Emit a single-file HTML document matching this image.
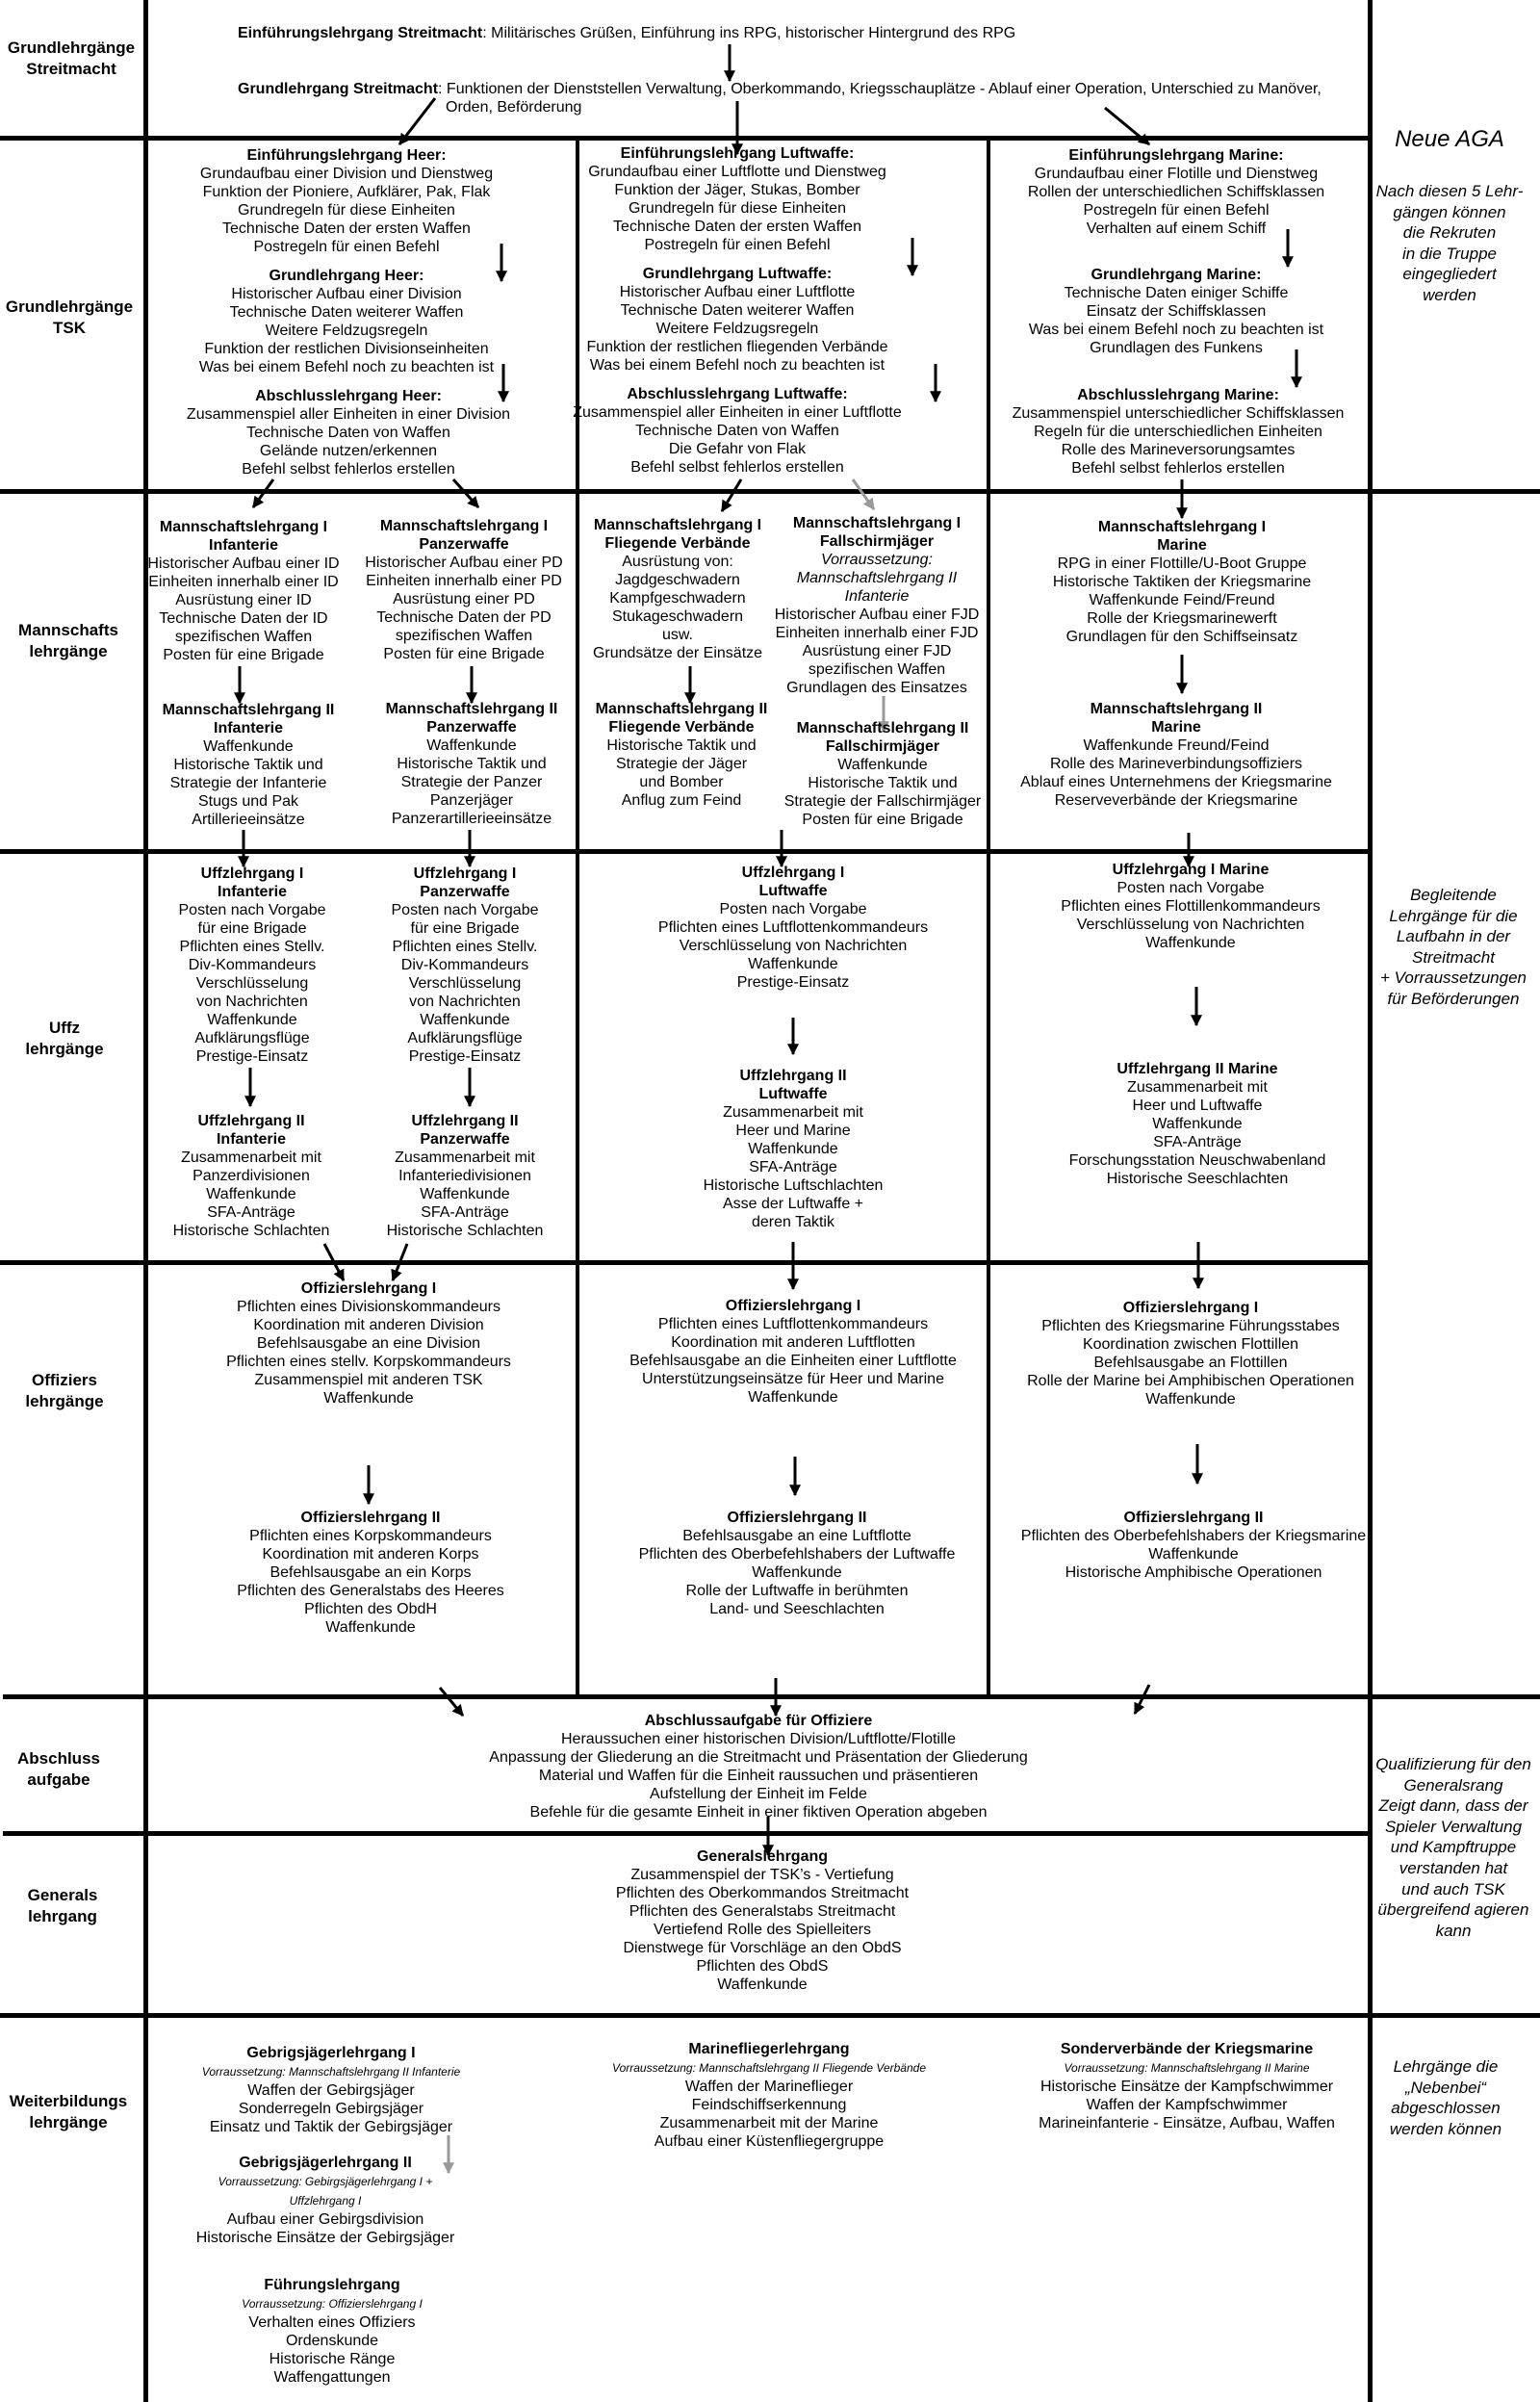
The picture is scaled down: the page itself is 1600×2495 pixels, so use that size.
<!DOCTYPE html>
<html><head><meta charset="utf-8">
<style>
html,body{margin:0;padding:0;background:#fff;}
#c{position:relative;width:1600px;height:2495px;overflow:hidden;font-family:"Liberation Sans",Arial,sans-serif;color:#000;}
.t{position:absolute;transform:translateX(-50%);text-align:center;white-space:nowrap;font-size:16px;line-height:19px;}
.l{position:absolute;white-space:nowrap;font-size:16px;line-height:19px;}
.lab{position:absolute;transform:translateX(-50%);text-align:center;white-space:nowrap;font-size:17px;line-height:21.5px;font-weight:bold;}
.r{position:absolute;transform:translateX(-50%);text-align:center;white-space:nowrap;font-size:17px;line-height:21.6px;font-style:italic;}
.sm{font-size:12px;font-style:italic;}
i{font-style:italic;}
svg{position:absolute;left:0;top:0;}
</style></head><body><div id="c">
<svg width="1600" height="2495" viewBox="0 0 1600 2495">
<defs>
<marker id="a" viewBox="0 0 10 10" refX="9" refY="5" markerWidth="4" markerHeight="4.5" orient="auto"><path d="M0,0 L10,5 L0,10 z" fill="#000"/></marker>
<marker id="g" viewBox="0 0 10 10" refX="9" refY="5" markerWidth="4" markerHeight="4.5" orient="auto"><path d="M0,0 L10,5 L0,10 z" fill="#999"/></marker>
</defs>
<g fill="#000">
<rect x="149" y="0" width="5" height="2495"/>
<rect x="1421" y="0" width="5" height="2495"/>
<rect x="598" y="143" width="4" height="1620"/>
<rect x="1025" y="143" width="4" height="1620"/>
<rect x="0" y="141" width="1424" height="5"/>
<rect x="0" y="508" width="1600" height="5"/>
<rect x="0" y="882" width="1424" height="5"/>
<rect x="0" y="1309" width="1424" height="5"/>
<rect x="3" y="1760" width="1597" height="5"/>
<rect x="3" y="1902" width="1421" height="5"/>
<rect x="0" y="2091" width="1600" height="5"/>
</g>
<g stroke="#000" stroke-width="3" marker-end="url(#a)">
<line x1="758" y1="46" x2="758" y2="84"/>
<line x1="766" y1="105" x2="766" y2="160"/>
<line x1="452" y1="102" x2="415" y2="150"/>
<line x1="1148" y1="112" x2="1194" y2="150"/>
<line x1="521" y1="253" x2="521" y2="292"/>
<line x1="523" y1="378" x2="523" y2="417"/>
<line x1="948" y1="247" x2="948" y2="286"/>
<line x1="972" y1="378" x2="972" y2="417"/>
<line x1="1338" y1="238" x2="1338" y2="277"/>
<line x1="1347" y1="363" x2="1347" y2="402"/>
<line x1="284" y1="498" x2="263" y2="527"/>
<line x1="471" y1="498" x2="497" y2="527"/>
<line x1="770" y1="498" x2="750" y2="531"/>
<line x1="1228" y1="498" x2="1228" y2="538"/>
<line x1="249" y1="692" x2="249" y2="730"/>
<line x1="490" y1="692" x2="490" y2="730"/>
<line x1="717" y1="692" x2="717" y2="730"/>
<line x1="1228" y1="680" x2="1228" y2="720"/>
<line x1="253" y1="862" x2="253" y2="900"/>
<line x1="488" y1="862" x2="488" y2="900"/>
<line x1="812" y1="862" x2="812" y2="900"/>
<line x1="1235" y1="865" x2="1235" y2="900"/>
<line x1="260" y1="1109" x2="260" y2="1149"/>
<line x1="488" y1="1109" x2="488" y2="1149"/>
<line x1="824" y1="1057" x2="824" y2="1095"/>
<line x1="1243" y1="1025" x2="1243" y2="1065"/>
<line x1="337" y1="1292" x2="357" y2="1330"/>
<line x1="423" y1="1292" x2="408" y2="1330"/>
<line x1="824" y1="1290" x2="824" y2="1339"/>
<line x1="1245" y1="1290" x2="1245" y2="1338"/>
<line x1="383" y1="1522" x2="383" y2="1562"/>
<line x1="826" y1="1513" x2="826" y2="1553"/>
<line x1="1244" y1="1500" x2="1244" y2="1541"/>
<line x1="457" y1="1753" x2="481" y2="1782"/>
<line x1="806" y1="1743" x2="806" y2="1782"/>
<line x1="1194" y1="1750" x2="1179" y2="1780"/>
<line x1="798" y1="1887" x2="798" y2="1927"/>
</g>
<g stroke="#999" stroke-width="3" marker-end="url(#g)">
<line x1="886" y1="498" x2="908" y2="529"/>
<line x1="918" y1="723" x2="918" y2="760"/>
<line x1="466" y1="2218" x2="466" y2="2257"/>
</g>
</svg>

<!-- Left labels -->
<div class="lab" style="left:74px;top:39px">Grundlehrgänge<br>Streitmacht</div>
<div class="lab" style="left:72px;top:308px">Grundlehrgänge<br>TSK</div>
<div class="lab" style="left:71px;top:644px">Mannschafts<br>lehrgänge</div>
<div class="lab" style="left:67px;top:1057px">Uffz<br>lehrgänge</div>
<div class="lab" style="left:67px;top:1423px">Offiziers<br>lehrgänge</div>
<div class="lab" style="left:61px;top:1816px">Abschluss<br>aufgabe</div>
<div class="lab" style="left:65px;top:1958px">Generals<br>lehrgang</div>
<div class="lab" style="left:71px;top:2172px">Weiterbildungs<br>lehrgänge</div>

<!-- Top row -->
<div class="l" style="left:247px;top:25px"><b>Einführungslehrgang Streitmacht</b>: Militärisches Grüßen, Einführung ins RPG, historischer Hintergrund des RPG</div>
<div class="l" style="left:247px;top:83px"><b>Grundlehrgang Streitmacht</b>: Funktionen der Dienststellen Verwaltung, Oberkommando, Kriegsschauplätze - Ablauf einer Operation, Unterschied zu Manöver,</div>
<div class="l" style="left:463px;top:102px">Orden, Beförderung</div>

<!-- Right column -->
<div class="r" style="left:1506px;top:131px;font-size:24px;line-height:28px">Neue AGA</div>
<div class="r" style="left:1506px;top:188px">Nach diesen 5 Lehr-<br>gängen können<br>die Rekruten<br>in die Truppe<br>eingegliedert<br>werden</div>
<div class="r" style="left:1510px;top:919px">Begleitende<br>Lehrgänge für die<br>Laufbahn in der<br>Streitmacht<br>+ Vorraussetzungen<br>für Beförderungen</div>
<div class="r" style="left:1510px;top:1822px">Qualifizierung für den<br>Generalsrang<br>Zeigt dann, dass der<br>Spieler Verwaltung<br>und Kampftruppe<br>verstanden hat<br>und auch TSK<br>übergreifend agieren<br>kann</div>
<div class="r" style="left:1502px;top:2136px">Lehrgänge die<br>„Nebenbei“<br>abgeschlossen<br>werden können</div>

<!-- Row 2: TSK -->
<div class="t" style="left:360px;top:152px"><b>Einführungslehrgang Heer:</b><br>Grundaufbau einer Division und Dienstweg<br>Funktion der Pioniere, Aufklärer, Pak, Flak<br>Grundregeln für diese Einheiten<br>Technische Daten der ersten Waffen<br>Postregeln für einen Befehl</div>
<div class="t" style="left:360px;top:277px"><b>Grundlehrgang Heer:</b><br>Historischer Aufbau einer Division<br>Technische Daten weiterer Waffen<br>Weitere Feldzugsregeln<br>Funktion der restlichen Divisionseinheiten<br>Was bei einem Befehl noch zu beachten ist</div>
<div class="t" style="left:362px;top:402px"><b>Abschlusslehrgang Heer:</b><br>Zusammenspiel aller Einheiten in einer Division<br>Technische Daten von Waffen<br>Gelände nutzen/erkennen<br>Befehl selbst fehlerlos erstellen</div>

<div class="t" style="left:766px;top:150px"><b>Einführungslehrgang Luftwaffe:</b><br>Grundaufbau einer Luftflotte und Dienstweg<br>Funktion der Jäger, Stukas, Bomber<br>Grundregeln für diese Einheiten<br>Technische Daten der ersten Waffen<br>Postregeln für einen Befehl</div>
<div class="t" style="left:766px;top:275px"><b>Grundlehrgang Luftwaffe:</b><br>Historischer Aufbau einer Luftflotte<br>Technische Daten weiterer Waffen<br>Weitere Feldzugsregeln<br>Funktion der restlichen fliegenden Verbände<br>Was bei einem Befehl noch zu beachten ist</div>
<div class="t" style="left:766px;top:400px"><b>Abschlusslehrgang Luftwaffe:</b><br>Zusammenspiel aller Einheiten in einer Luftflotte<br>Technische Daten von Waffen<br>Die Gefahr von Flak<br>Befehl selbst fehlerlos erstellen</div>

<div class="t" style="left:1222px;top:152px"><b>Einführungslehrgang Marine:</b><br>Grundaufbau einer Flotille und Dienstweg<br>Rollen der unterschiedlichen Schiffsklassen<br>Postregeln für einen Befehl<br>Verhalten auf einem Schiff</div>
<div class="t" style="left:1222px;top:276px"><b>Grundlehrgang Marine:</b><br>Technische Daten einiger Schiffe<br>Einsatz der Schiffsklassen<br>Was bei einem Befehl noch zu beachten ist<br>Grundlagen des Funkens</div>
<div class="t" style="left:1224px;top:401px"><b>Abschlusslehrgang Marine:</b><br>Zusammenspiel unterschiedlicher Schiffsklassen<br>Regeln für die unterschiedlichen Einheiten<br>Rolle des Marineversorungsamtes<br>Befehl selbst fehlerlos erstellen</div>

<!-- Row 3: Mannschaften -->
<div class="t" style="left:253px;top:538px"><b>Mannschaftslehrgang I<br>Infanterie</b><br>Historischer Aufbau einer ID<br>Einheiten innerhalb einer ID<br>Ausrüstung einer ID<br>Technische Daten der ID<br>spezifischen Waffen<br>Posten für eine Brigade</div>
<div class="t" style="left:258px;top:728px"><b>Mannschaftslehrgang II<br>Infanterie</b><br>Waffenkunde<br>Historische Taktik und<br>Strategie der Infanterie<br>Stugs und Pak<br>Artillerieeinsätze</div>
<div class="t" style="left:482px;top:537px"><b>Mannschaftslehrgang I<br>Panzerwaffe</b><br>Historischer Aufbau einer PD<br>Einheiten innerhalb einer PD<br>Ausrüstung einer PD<br>Technische Daten der PD<br>spezifischen Waffen<br>Posten für eine Brigade</div>
<div class="t" style="left:490px;top:727px"><b>Mannschaftslehrgang II<br>Panzerwaffe</b><br>Waffenkunde<br>Historische Taktik und<br>Strategie der Panzer<br>Panzerjäger<br>Panzerartillerieeinsätze</div>
<div class="t" style="left:704px;top:536px"><b>Mannschaftslehrgang I<br>Fliegende Verbände</b><br>Ausrüstung von:<br>Jagdgeschwadern<br>Kampfgeschwadern<br>Stukageschwadern<br>usw.<br>Grundsätze der Einsätze</div>
<div class="t" style="left:708px;top:727px"><b>Mannschaftslehrgang II<br>Fliegende Verbände</b><br>Historische Taktik und<br>Strategie der Jäger<br>und Bomber<br>Anflug zum Feind</div>
<div class="t" style="left:911px;top:534px"><b>Mannschaftslehrgang I<br>Fallschirmjäger</b><br><i>Vorraussetzung:<br>Mannschaftslehrgang II<br>Infanterie</i><br>Historischer Aufbau einer FJD<br>Einheiten innerhalb einer FJD<br>Ausrüstung einer FJD<br>spezifischen Waffen<br>Grundlagen des Einsatzes</div>
<div class="t" style="left:917px;top:747px"><b>Mannschaftslehrgang II<br>Fallschirmjäger</b><br>Waffenkunde<br>Historische Taktik und<br>Strategie der Fallschirmjäger<br>Posten für eine Brigade</div>
<div class="t" style="left:1228px;top:538px"><b>Mannschaftslehrgang I<br>Marine</b><br>RPG in einer Flottille/U-Boot Gruppe<br>Historische Taktiken der Kriegsmarine<br>Waffenkunde Feind/Freund<br>Rolle der Kriegsmarinewerft<br>Grundlagen für den Schiffseinsatz</div>
<div class="t" style="left:1222px;top:727px"><b>Mannschaftslehrgang II<br>Marine</b><br>Waffenkunde Freund/Feind<br>Rolle des Marineverbindungsoffiziers<br>Ablauf eines Unternehmens der Kriegsmarine<br>Reserveverbände der Kriegsmarine</div>

<!-- Row 4: Uffz -->
<div class="t" style="left:262px;top:898px"><b>Uffzlehrgang I<br>Infanterie</b><br>Posten nach Vorgabe<br>für eine Brigade<br>Pflichten eines Stellv.<br>Div-Kommandeurs<br>Verschlüsselung<br>von Nachrichten<br>Waffenkunde<br>Aufklärungsflüge<br>Prestige-Einsatz</div>
<div class="t" style="left:261px;top:1155px"><b>Uffzlehrgang II<br>Infanterie</b><br>Zusammenarbeit mit<br>Panzerdivisionen<br>Waffenkunde<br>SFA-Anträge<br>Historische Schlachten</div>
<div class="t" style="left:483px;top:898px"><b>Uffzlehrgang I<br>Panzerwaffe</b><br>Posten nach Vorgabe<br>für eine Brigade<br>Pflichten eines Stellv.<br>Div-Kommandeurs<br>Verschlüsselung<br>von Nachrichten<br>Waffenkunde<br>Aufklärungsflüge<br>Prestige-Einsatz</div>
<div class="t" style="left:483px;top:1155px"><b>Uffzlehrgang II<br>Panzerwaffe</b><br>Zusammenarbeit mit<br>Infanteriedivisionen<br>Waffenkunde<br>SFA-Anträge<br>Historische Schlachten</div>
<div class="t" style="left:824px;top:897px"><b>Uffzlehrgang I<br>Luftwaffe</b><br>Posten nach Vorgabe<br>Pflichten eines Luftflottenkommandeurs<br>Verschlüsselung von Nachrichten<br>Waffenkunde<br>Prestige-Einsatz</div>
<div class="t" style="left:824px;top:1108px"><b>Uffzlehrgang II<br>Luftwaffe</b><br>Zusammenarbeit mit<br>Heer und Marine<br>Waffenkunde<br>SFA-Anträge<br>Historische Luftschlachten<br>Asse der Luftwaffe +<br>deren Taktik</div>
<div class="t" style="left:1237px;top:894px"><b>Uffzlehrgang I Marine</b><br>Posten nach Vorgabe<br>Pflichten eines Flottillenkommandeurs<br>Verschlüsselung von Nachrichten<br>Waffenkunde</div>
<div class="t" style="left:1244px;top:1101px"><b>Uffzlehrgang II Marine</b><br>Zusammenarbeit mit<br>Heer und Luftwaffe<br>Waffenkunde<br>SFA-Anträge<br>Forschungsstation Neuschwabenland<br>Historische Seeschlachten</div>

<!-- Row 5: Offiziere -->
<div class="t" style="left:383px;top:1329px"><b>Offizierslehrgang I</b><br>Pflichten eines Divisionskommandeurs<br>Koordination mit anderen Division<br>Befehlsausgabe an eine Division<br>Pflichten eines stellv. Korpskommandeurs<br>Zusammenspiel mit anderen TSK<br>Waffenkunde</div>
<div class="t" style="left:385px;top:1567px"><b>Offizierslehrgang II</b><br>Pflichten eines Korpskommandeurs<br>Koordination mit anderen Korps<br>Befehlsausgabe an ein Korps<br>Pflichten des Generalstabs des Heeres<br>Pflichten des ObdH<br>Waffenkunde</div>
<div class="t" style="left:824px;top:1347px"><b>Offizierslehrgang I</b><br>Pflichten eines Luftflottenkommandeurs<br>Koordination mit anderen Luftflotten<br>Befehlsausgabe an die Einheiten einer Luftflotte<br>Unterstützungseinsätze für Heer und Marine<br>Waffenkunde</div>
<div class="t" style="left:828px;top:1567px"><b>Offizierslehrgang II</b><br>Befehlsausgabe an eine Luftflotte<br>Pflichten des Oberbefehlshabers der Luftwaffe<br>Waffenkunde<br>Rolle der Luftwaffe in berühmten<br>Land- und Seeschlachten</div>
<div class="t" style="left:1237px;top:1349px"><b>Offizierslehrgang I</b><br>Pflichten des Kriegsmarine Führungsstabes<br>Koordination zwischen Flottillen<br>Befehlsausgabe an Flottillen<br>Rolle der Marine bei Amphibischen Operationen<br>Waffenkunde</div>
<div class="t" style="left:1240px;top:1567px"><b>Offizierslehrgang II</b><br>Pflichten des Oberbefehlshabers der Kriegsmarine<br>Waffenkunde<br>Historische Amphibische Operationen</div>

<!-- Row 6/7 -->
<div class="t" style="left:788px;top:1778px"><b>Abschlussaufgabe für Offiziere</b><br>Heraussuchen einer historischen Division/Luftflotte/Flotille<br>Anpassung der Gliederung an die Streitmacht und Präsentation der Gliederung<br>Material und Waffen für die Einheit raussuchen und präsentieren<br>Aufstellung der Einheit im Felde<br>Befehle für die gesamte Einheit in einer fiktiven Operation abgeben</div>
<div class="t" style="left:792px;top:1919px"><b>Generalslehrgang</b><br>Zusammenspiel der TSK’s - Vertiefung<br>Pflichten des Oberkommandos Streitmacht<br>Pflichten des Generalstabs Streitmacht<br>Vertiefend Rolle des Spielleiters<br>Dienstwege für Vorschläge an den ObdS<br>Pflichten des ObdS<br>Waffenkunde</div>

<!-- Row 8 -->
<div class="t" style="left:344px;top:2123px"><b>Gebrigsjägerlehrgang I</b><br><span class="sm">Vorraussetzung: Mannschaftslehrgang II Infanterie</span><br>Waffen der Gebirgsjäger<br>Sonderregeln Gebirgsjäger<br>Einsatz und Taktik der Gebirgsjäger</div>
<div class="t" style="left:338px;top:2237px"><b>Gebrigsjägerlehrgang II</b><br><span class="sm">Vorraussetzung: Gebirgsjägerlehrgang I +<br>Uffzlehrgang I</span><br>Aufbau einer Gebirgsdivision<br>Historische Einsätze der Gebirgsjäger</div>
<div class="t" style="left:345px;top:2364px"><b>Führungslehrgang</b><br><span class="sm">Vorraussetzung: Offizierslehrgang I</span><br>Verhalten eines Offiziers<br>Ordenskunde<br>Historische Ränge<br>Waffengattungen</div>
<div class="t" style="left:799px;top:2119px"><b>Marinefliegerlehrgang</b><br><span class="sm">Vorraussetzung: Mannschaftslehrgang II Fliegende Verbände</span><br>Waffen der Marineflieger<br>Feindschiffserkennung<br>Zusammenarbeit mit der Marine<br>Aufbau einer Küstenfliegergruppe</div>
<div class="t" style="left:1233px;top:2119px"><b>Sonderverbände der Kriegsmarine</b><br><span class="sm">Vorraussetzung: Mannschaftslehrgang II Marine</span><br>Historische Einsätze der Kampfschwimmer<br>Waffen der Kampfschwimmer<br>Marineinfanterie - Einsätze, Aufbau, Waffen</div>
</div></body></html>
